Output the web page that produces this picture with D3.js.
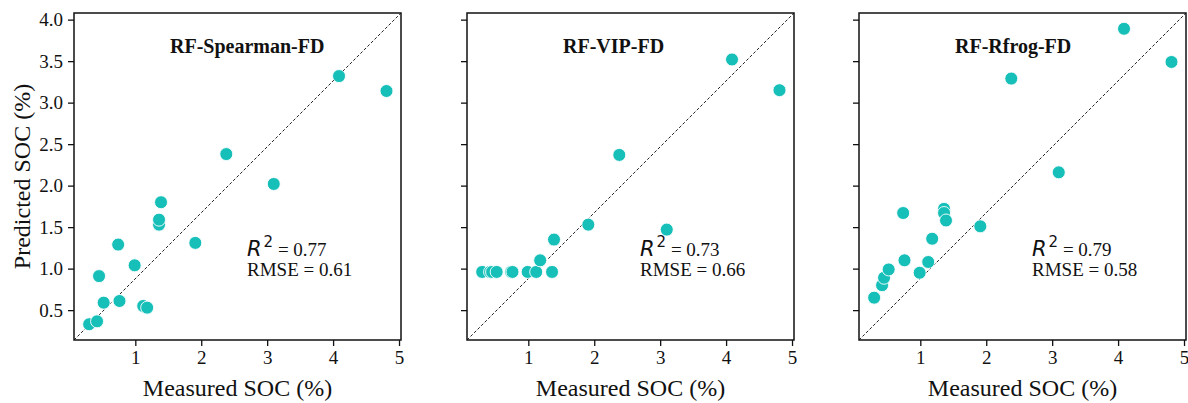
<!DOCTYPE html>
<html>
<head>
<meta charset="utf-8">
<script src="https://cdn.jsdelivr.net/npm/d3@7"></script>
<style>
  body { margin: 0; background: #fff; }
  svg text { font-family: "Liberation Serif", "Times New Roman", serif; fill: #111; }
</style>
</head>
<body>
<svg id="chart" width="1188" height="403"></svg>
<script>
// measured SOC, shared by all three models
var measured = [0.30, 0.42, 0.45, 0.52, 0.74, 0.76, 0.99, 1.12, 1.18, 1.36, 1.36, 1.39, 1.91, 2.38, 3.10, 4.09, 4.81];
var predSpearman = [0.33, 0.365, 0.91, 0.59, 1.29, 0.61, 1.04, 0.55, 0.53, 1.53, 1.59, 1.80, 1.31, 2.38, 2.02, 3.32, 3.14];
var predVip = [0.96, 0.96, 0.96, 0.96, 0.96, 0.96, 0.96, 0.96, 1.10, 0.96, 0.96, 1.35, 1.53, 2.37, 1.47, 3.52, 3.15];
var predRfrog = [0.65, 0.80, 0.89, 0.99, 1.67, 1.10, 0.95, 1.08, 1.36, 1.72, 1.67, 1.58, 1.51, 3.29, 2.16, 3.89, 3.49];
var titles = ["RF-Spearman-FD", "RF-VIP-FD", "RF-Rfrog-FD"];
var r2 = ["0.77", "0.73", "0.79"];
var rmse = ["0.61", "0.66", "0.58"];
var xTicks = [1, 2, 3, 4, 5];
var yTicks = [0.5, 1.0, 1.5, 2.0, 2.5, 3.0, 3.5, 4.0];

var preds = [predSpearman, predVip, predRfrog];
var svg = d3.select("#chart");
var W = 327, H = 327, padTop = 13;
var lefts = [74, 467, 859];
var teal = "#17bfb9";

var x = d3.scaleLinear().domain([0.07, 5.03]).range([0, W]);
var y = d3.scaleLinear().domain([0.14, 4.08]).range([H, 0]);

preds.forEach(function(pred, i) {
    var g = svg.append("g").attr("transform", "translate(" + lefts[i] + "," + padTop + ")");

    var xa = g.append("g").attr("transform", "translate(0," + H + ")")
        .call(d3.axisBottom(x).tickValues(xTicks).tickFormat(d3.format("d")).tickSize(6).tickPadding(5));
    var ya = g.append("g")
        .call(d3.axisLeft(y).tickValues(yTicks).tickFormat(i === 0 ? d3.format(".1f") : "").tickSize(6).tickPadding(5));
    [xa, ya].forEach(function(a) {
        a.select(".domain").remove();
        a.selectAll(".tick line").attr("stroke", "#111").attr("stroke-width", 1.3);
        a.selectAll(".tick text").style("font-size", "19px").attr("fill", "#111");
    });

    // 1:1 line across the axes box
    g.append("line").attr("x1", 0).attr("y1", H).attr("x2", W).attr("y2", 0)
        .attr("stroke", "#222").attr("stroke-width", 1).attr("stroke-dasharray", "3,2");

    g.selectAll("circle").data(pred).enter().append("circle")
        .attr("cx", function(d, j) { return x(measured[j]); })
        .attr("cy", function(d) { return y(d); })
        .attr("r", 6.5)
        .attr("fill", teal).attr("stroke", "#fff").attr("stroke-width", 0.9);

    g.append("rect").attr("width", W).attr("height", H)
        .attr("fill", "none").attr("stroke", "#111").attr("stroke-width", 1.5);

    g.append("text").attr("x", 96).attr("y", 40).style("font-size", "20px").style("font-weight", "bold")
        .text(titles[i]);

    var t = g.append("text").attr("x", 173).attr("y", 243).style("font-size", "19px");
    t.append("tspan").style("font-family", "DejaVu Sans").style("font-style", "italic").style("font-size", "21px").text("R");
    t.append("tspan").style("font-family", "DejaVu Sans").style("font-size", "15px").attr("dy", -9).attr("dx", 2).text("2");
    t.append("tspan").attr("dy", 9).text(" = " + r2[i]);
    g.append("text").attr("x", 173).attr("y", 263).style("font-size", "19px").text("RMSE = " + rmse[i]);

    g.append("text").attr("x", W / 2).attr("y", 383).attr("text-anchor", "middle")
        .style("font-size", "24px").text("Measured SOC (%)");
});

svg.append("text").attr("transform", "translate(30," + (padTop + H / 2) + ") rotate(-90)")
    .attr("text-anchor", "middle").style("font-size", "24px").text("Predicted SOC (%)");
</script>
</body>
</html>
